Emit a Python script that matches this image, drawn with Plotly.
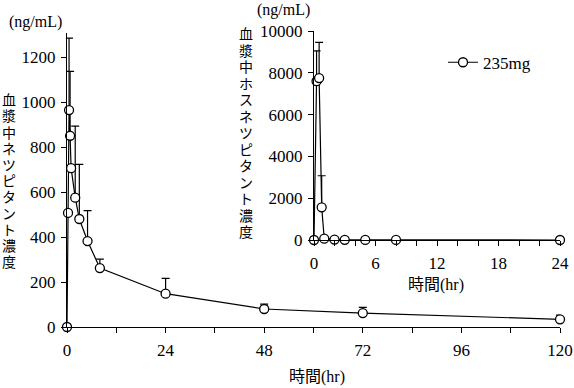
import plotly.graph_objects as go

# ---- data ----
main_time = [0, 0.25, 0.5, 0.75, 1, 2, 3, 5, 8, 24, 48, 72, 120]
main_conc = [0, 507, 964, 850, 706, 575, 480, 382, 262, 148, 80, 62, 34]
main_sd = [0, 0, 320, 286, 0, 318, 243, 135, 40, 68, 22, 25, 19]

fos_time = [0, 0.25, 0.5, 0.75, 1, 2, 3, 5, 8, 24]
fos_conc = [0, 7600, 7750, 1565, 62, 20, 10, 5, 2, 0]
fos_sd = [0, 1450, 1710, 1510, 0, 0, 0, 0, 0, 0]

main_xtick_vals = [0, 12, 24, 36, 48, 60, 72, 84, 96, 108, 120]
main_xtick_text = ["0", "", "24", "", "48", "", "72", "", "96", "", "120"]
main_ytick_vals = [0, 200, 400, 600, 800, 1000, 1200]
main_ytick_text = ["0", "200", "400", "600", "800", "1000", "1200"]

inset_xtick_vals = [0, 2, 4, 6, 8, 10, 12, 14, 16, 18, 20, 22, 24]
inset_xtick_text = ["0", "", "", "6", "", "", "12", "", "", "18", "", "", "24"]
inset_ytick_vals = [0, 2000, 4000, 6000, 8000, 10000]
inset_ytick_text = ["0", "2000", "4000", "6000", "8000", "10000"]

series_name = "235mg"
main_ytitle = "血漿中ネツピタント濃度"
inset_ytitle = "血漿中ホスネツピタント濃度"
unit_label = "(ng/mL)"
xtitle = "時間(hr)"

# ---- styling ----
W, H = 574, 388
SERIF = "Liberation Serif, Noto Sans CJK JP"
JP = "Noto Sans CJK JP"
BLACK = "black"

def px_x(p):
    return p / W

def px_y(p):
    return 1 - p / H

marker = dict(symbol="circle", size=9, color="white", line=dict(color=BLACK, width=1.3))
line = dict(color=BLACK, width=1.2)

fig = go.Figure()
fig.add_trace(go.Scatter(
    x=main_time, y=main_conc, mode="lines+markers", marker=marker, line=line,
    error_y=dict(type="data", symmetric=False, array=main_sd, arrayminus=[0] * len(main_sd),
                 color=BLACK, thickness=1.2, width=4),
    xaxis="x", yaxis="y", showlegend=False, cliponaxis=False, name=series_name,
))
fig.add_trace(go.Scatter(
    x=fos_time, y=fos_conc, mode="lines+markers", marker=marker, line=line,
    error_y=dict(type="data", symmetric=False, array=fos_sd, arrayminus=[0] * len(fos_sd),
                 color=BLACK, thickness=1.2, width=4),
    xaxis="x2", yaxis="y2", showlegend=True, cliponaxis=False, name=series_name,
))

axis_common = dict(
    showline=True, linecolor=BLACK, linewidth=1.2, showgrid=False, zeroline=False,
    ticks="outside", ticklen=5, tickwidth=1.2, tickcolor=BLACK, automargin=False,
    tickfont=dict(family=SERIF, size=17, color=BLACK), ticklabelstandoff=2,
)

fig.update_layout(
    width=W, height=H, margin=dict(l=0, r=0, t=0, b=0, autoexpand=False),
    paper_bgcolor="white", plot_bgcolor="rgba(0,0,0,0)",
    xaxis=dict(domain=[px_x(67), px_x(560)], range=[0, 120], anchor="y",
               tickmode="array", tickvals=main_xtick_vals, ticktext=main_xtick_text, **axis_common),
    yaxis=dict(domain=[px_y(327), px_y(33.4)], range=[0, 1305], anchor="x",
               tickmode="array", tickvals=main_ytick_vals, ticktext=main_ytick_text, **axis_common),
    xaxis2=dict(domain=[px_x(314), px_x(560)], range=[0, 24], anchor="y2",
                tickmode="array", tickvals=inset_xtick_vals, ticktext=inset_xtick_text, **axis_common),
    yaxis2=dict(domain=[px_y(240), px_y(31)], range=[0, 10000], anchor="x2",
                tickmode="array", tickvals=inset_ytick_vals, ticktext=inset_ytick_text, **axis_common),
    legend=dict(x=px_x(443), y=px_y(62.7), xanchor="left", yanchor="middle",
                bgcolor="rgba(0,0,0,0)", font=dict(family=SERIF, size=17, color=BLACK)),
    showlegend=True,
)

annotations = []

def note(text, xc, yc, size, family=SERIF):
    annotations.append(dict(text=text, x=px_x(xc), y=px_y(yc), xref="paper", yref="paper",
                            xanchor="center", yanchor="middle", showarrow=False,
                            font=dict(family=family, size=size, color=BLACK)))

# unit labels
note(unit_label, 35, 22, 16)
note(unit_label, 283, 10, 16)
# x titles
note(xtitle, 317, 377, 16)
note(xtitle, 436, 285, 16)

# vertical stacked titles (one character per line)
def vertical(text, xc, top, pitch, size):
    for i, ch in enumerate(text):
        note(ch, xc, top + pitch * (i + 0.5), size, JP)

vertical(main_ytitle, 9, 91, 16.2, 14)
vertical(inset_ytitle, 246, 25, 16.5, 14)

fig.update_layout(annotations=annotations)
fig.write_html("out.html", config={"displayModeBar": False},
               post_script="document.body.style.margin='0';document.body.style.padding='0';")
